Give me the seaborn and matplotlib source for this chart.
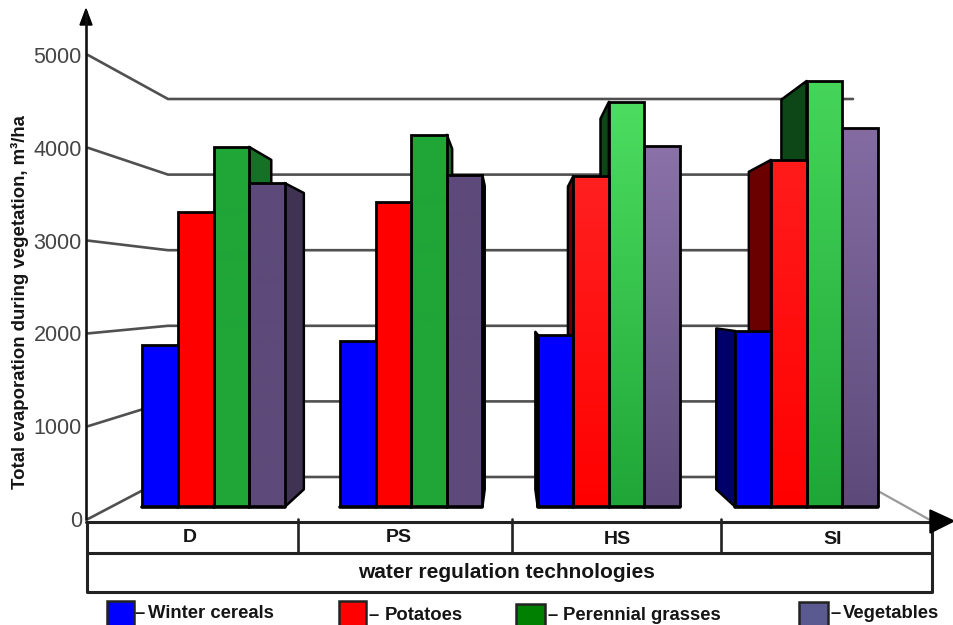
import matplotlib
matplotlib.use("Agg")
import matplotlib.pyplot as plt
import matplotlib.colors as mcolors
import numpy as np
import pandas as pd
import seaborn as sns
from matplotlib.patches import Polygon, Rectangle

technologies = ["D", "PS", "HS", "SI"]
crops = ["Winter cereals", "Potatoes", "Perennial grasses", "Vegetables"]
winter_cereals = [1875, 1920, 1985, 2025]
potatoes = [3310, 3415, 3695, 3870]
perennial_grasses = [4010, 4140, 4495, 4720]
vegetables = [3620, 3705, 4020, 4215]
y_ticks = [0, 1000, 2000, 3000, 4000, 5000]

bar_colors = ["#0000ff", "#ff0000", "#1fa637", "#5d4a7a"]
bright_colors = ["#0000ff", "#ff2020", "#4cdd60", "#8a72a8"]
legend_colors = ["#0000ff", "#ff0000", "#008000", "#5a5a90"]
# how much of the bright colour reaches the bar top, and how dark the side is
lift = [0, 0, 1.0, 0.85]
side_shade = [0.68, 0.68, 0.42, 0.42]

W, H = 954, 625
FONT = "Liberation Sans"
TEXT = "#151515"


def to_fig(x0, y0, x1, y1):
    # pixel box (y down) to figure fractions
    return [x0 / W, 1 - y1 / H, (x1 - x0) / W, (y1 - y0) / H]


sns.set_theme(style="white")
plt.rcParams["font.family"] = [FONT, "DejaVu Sans"]
fig = plt.figure(figsize=(W / 100, H / 100), dpi=100, facecolor="white")

# pixel canvas for the walls, floor and the table under the chart
deco = fig.add_axes([0, 0, 1, 1], zorder=0)
deco.set_xlim(0, W)
deco.set_ylim(H, 0)
deco.axis("off")

# walls: each level runs from the front axis back, then along the back wall
px_front = 92.8 / 1000
px_back = 75.6 / 1000
for v in y_ticks:
    yf = 519 - v * px_front
    yb = 477 - v * px_back
    deco.plot([88, 168, 853], [yf, yb, yb], color="#505050", lw=1.9, solid_joinstyle="miter", zorder=1)
deco.plot([853, 930], [477, 520], color="#9a9a9a", lw=1.6, zorder=1)

# bars, y scale same as the left axis, cut off at the floor line
ax = fig.add_axes(to_fig(0, 0, W, 507), zorder=2)
ax.patch.set_alpha(0)
df = pd.DataFrame(
    {
        "technology": np.repeat(technologies, 4),
        "crop": crops * 4,
        "evaporation": np.ravel(np.column_stack([winter_cereals, potatoes, perennial_grasses, vegetables])),
    }
)
sns.barplot(
    data=df,
    x="technology",
    y="evaporation",
    hue="crop",
    hue_order=crops,
    order=technologies,
    palette=bar_colors,
    width=0.72,
    gap=0,
    saturation=1,
    edgecolor="black",
    linewidth=2.0,
    legend=False,
    ax=ax,
)
x_lim = ((0 - 213.5) / 197.7, (W - 213.5) / 197.7)
y_lim = ((519 - 507) / px_front, 519 / px_front)
ax.set_xlim(*x_lim)
ax.set_ylim(*y_lim)
ax.axis("off")
fig.canvas.draw()

# perspective: side faces shrink towards the vanishing point
VX, VY = 510, 300
DEPTH = 0.085
for h, container in enumerate(ax.containers):
    for g, bar in enumerate(container):
        x0, x1 = bar.get_x(), bar.get_x() + bar.get_width()
        top = bar.get_height()
        (px0, ptop), (px1, pbot) = deco.transData.inverted().transform(
            ax.transData.transform([(x0, top), (x1, y_lim[0])])
        )
        near = px1 if px1 < VX else px0
        far = near + (VX - near) * DEPTH
        quad = [
            (near, ptop),
            (far, ptop + (VY - ptop) * DEPTH),
            (far, pbot + (VY - pbot) * DEPTH),
            (near, pbot),
        ]
        side = np.array(mcolors.to_rgb(bar_colors[h])) * side_shade[g]
        deco.add_patch(
            Polygon(quad, closed=True, facecolor=side, edgecolor="black", lw=1.8, joinstyle="round", zorder=3)
        )

        # front face gradient, clipped to the bar
        base = np.array(mcolors.to_rgb(bar_colors[h]))
        bright = np.array(mcolors.to_rgb(bright_colors[h]))
        topc = base + lift[g] * (bright - base)
        ramp = np.linspace(0, 1, 64)[:, None, None]
        img = topc * (1 - ramp) + base * ramp
        im = ax.imshow(
            img,
            extent=(x0, x1, y_lim[0], top),
            aspect="auto",
            interpolation="bilinear",
            origin="upper",
            zorder=1,
        )
        im.set_clip_path(bar)
        bar.set_facecolor("none")
        bar.set_zorder(2)
        ax.plot([x0, x1], [y_lim[0], y_lim[0]], color="black", lw=2.6, clip_on=False, zorder=3)
ax.set_xlim(*x_lim)
ax.set_ylim(*y_lim)

# left axis with the real scale
axis_ax = fig.add_axes(to_fig(86, 12, 87, 519), zorder=3)
axis_ax.patch.set_alpha(0)
axis_ax.set_ylim(0, (519 - 12) / px_front)
axis_ax.set_xticks([])
axis_ax.set_yticks(y_ticks)
axis_ax.tick_params(axis="y", length=0, pad=3, labelsize=15.5, labelcolor="#444444")
for name in ["top", "right", "bottom"]:
    axis_ax.spines[name].set_visible(False)
axis_ax.spines["left"].set_linewidth(1.9)
axis_ax.spines["left"].set_color("#111111")

deco.add_patch(Polygon([(86, 9), (80, 25), (92, 25)], closed=True, color="black", zorder=6))
deco.text(
    19.5, 302, "Total evaporation during vegetation, m\u00b3/ha",
    rotation=90, ha="center", va="center", fontsize=13.4, fontweight="bold", color=TEXT,
)

# table under the axis
deco.plot([86, 935], [522, 522], color="#222222", lw=2.2, zorder=5)
deco.add_patch(Polygon([(930, 510), (954, 521), (930, 533)], closed=True, color="black", zorder=6))
deco.plot([87, 87, 932, 932], [522, 592, 592, 522], color="#222222", lw=2.2, zorder=5)
deco.plot([87, 932], [553, 553], color="#222222", lw=2.2, zorder=5)
for sep in [298, 512, 721]:
    deco.plot([sep, sep], [519, 553], color="#222222", lw=1.9, zorder=5)
for label, lx, ly in zip(technologies, [190, 399, 617, 833], [538, 538, 539, 540]):
    deco.text(lx, ly, label, ha="center", va="center", fontsize=14, fontweight="bold", color=TEXT)
deco.text(507, 573, "water regulation technologies", ha="center", va="center",
          fontsize=15, fontweight="bold", color=TEXT)

# legend
legend_x = [107, 339, 516, 799]
legend_w = [27, 27, 29, 29]
legend_top = [601, 601, 604, 602]
dash_x = [135, 369, 548, 831]
legend_text_x = [148, 385, 563, 843]
legend_text_y = [613, 616, 616, 614]
for i, crop in enumerate(crops):
    deco.add_patch(
        Rectangle((legend_x[i], legend_top[i]), legend_w[i], 30,
                  facecolor=legend_colors[i], edgecolor="#222222", lw=1.8, clip_on=True)
    )
    deco.text(dash_x[i], legend_text_y[i], "\u2013", ha="left", va="center",
              fontsize=13.3, fontweight="bold", color=TEXT)
    deco.text(legend_text_x[i], legend_text_y[i], crop, ha="left", va="center",
              fontsize=13.3, fontweight="bold", color=TEXT)

fig.savefig("out.png", dpi=100)
plt.close(fig)
